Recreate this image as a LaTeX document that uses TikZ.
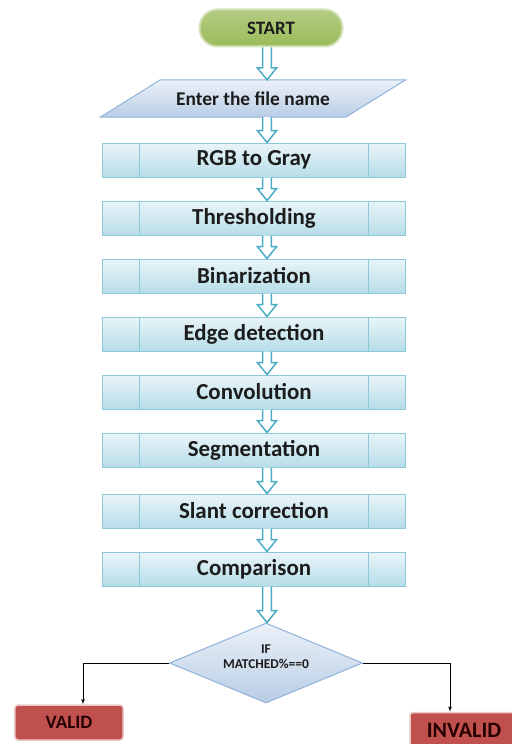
\documentclass[tikz,border=0pt]{standalone}
\usepackage{fontspec}
\setmainfont{Carlito}
\usetikzlibrary{arrows,positioning,shapes.geometric,calc,backgrounds}
\definecolor{startgreen}{HTML}{9BBB59}
\definecolor{startedge}{HTML}{D3E2B6}
\definecolor{boxtop}{HTML}{E9F5F9}
\definecolor{boxbottom}{HTML}{B7DDE8}
\definecolor{boxedge}{HTML}{8CC8D8}
\definecolor{paratop}{HTML}{EBF1F8}
\definecolor{parabottom}{HTML}{B9CDE5}
\definecolor{paraedge}{HTML}{8FB2DA}
\definecolor{arrowteal}{HTML}{4BACC6}
\definecolor{resultred}{HTML}{C0504D}
\definecolor{resultedge}{HTML}{EBC9C8}
\definecolor{textdark}{HTML}{1C1C1C}

\begin{document}
\begin{tikzpicture}[x=1bp, y=-1bp, node distance=23bp, auto]
\tikzset{
    startnode/.style={rectangle, rounded corners=18bp, draw=startedge, line width=2bp, top color=startgreen!75!white, bottom color=startgreen, minimum width=143bp, minimum height=37bp, font=\fontsize{19}{21}\selectfont\bfseries, text=textdark},
    inputnode/.style={rectangle, minimum width=305bp, minimum height=37bp, inner sep=0pt, font=\fontsize{19.5}{21}\selectfont\bfseries, text=textdark},
    inputshape/.style={draw=paraedge, line width=1bp, top color=paratop, bottom color=parabottom},
    stepbox/.style={rectangle, draw=boxedge, line width=1bp, top color=boxtop, bottom color=boxbottom, minimum width=302bp, minimum height=34bp, inner sep=0pt, font=\fontsize{23}{25}\selectfont\bfseries, text=textdark,
        path picture={
            \draw[boxedge, line width=1bp] ([xshift=36bp]path picture bounding box.north west) -- ([xshift=36bp]path picture bounding box.south west);
            \draw[boxedge, line width=1bp] ([xshift=-37bp]path picture bounding box.north east) -- ([xshift=-37bp]path picture bounding box.south east);}},
    decisionnode/.style={diamond, aspect=2.4, draw=paraedge, line width=1bp, top color=paratop, bottom color=parabottom, minimum width=193bp, minimum height=80bp, inner sep=0pt},
    decisiontext/.style={align=center, yshift=6.5bp, inner sep=0pt, font=\fontsize{13.5}{15}\selectfont\bfseries, text=textdark},
    resultnode/.style={rectangle, rounded corners=3bp, draw=resultedge, line width=1.5bp, fill=resultred, minimum width=108bp, minimum height=35bp, font=\fontsize{19}{21}\selectfont\bfseries, text=black!85!red},
    hollow/.style={draw=arrowteal, fill=white, line width=1.5bp, line join=miter,
        to path={let \p1=(\tikztostart), \p2=(\tikztotarget) in
            (\x1-4.3pt,\y1) -- (\x1-4.3pt,\y2+12pt) -- (\x1-9.7pt,\y2+12pt) -- (\x1,\y2)
            -- (\x1+9.7pt,\y2+12pt) -- (\x1+4.3pt,\y2+12pt) -- (\x1+4.3pt,\y1)}},
    myarrow/.style={->, >=latex', thick, black}
}
\useasboundingbox (0,0) rectangle (512,744);

\node[startnode] (start) at (271,28) {START};
\node[inputnode] (filename) at (253,98.5) {Enter the file name};
\node[stepbox] (rgb) at (254,160) {RGB to Gray};
\node[stepbox, below=of rgb] (threshold) {Thresholding};
\node[stepbox, below=of threshold] (binarize) {Binarization};
\node[stepbox, below=of binarize] (edge) {Edge detection};
\node[stepbox, below=of edge] (convolve) {Convolution};
\node[stepbox, below=of convolve] (segment) {Segmentation};
\node[stepbox, below=26bp of segment] (slant) {Slant correction};
\node[stepbox, below=of slant] (compare) {Comparison};
\node[decisionnode, below=36bp of compare, xshift=12bp,
    label={[decisiontext]center:IF\\MATCHED\%==0}] (decide) {};
\node[resultnode] (valid) at (69,722.5) {VALID};
\node[resultnode, font=\fontsize{22}{24}\selectfont\bfseries] (invalid) at (464,730) {INVALID};

% the input parallelogram sits behind its text
\begin{scope}[on background layer]
\draw[inputshape] (filename.south west) -- ([xshift=-60bp]filename.south east)
    -- (filename.north east) -- ([xshift=60bp]filename.north west) -- cycle;
\end{scope}

% hollow arrows between the steps
\draw[hollow] ([xshift=-4bp]start.south) to (filename.north);
\draw[hollow] ([xshift=14bp]filename.south) to (rgb.north);
\foreach \a/\b in {rgb/threshold, threshold/binarize, binarize/edge, edge/convolve, convolve/segment, segment/slant, slant/compare}
    \draw[hollow] ([xshift=13bp]\a.south) to (\b.north);
\draw[hollow] ([xshift=13bp]compare.south) to (decide.north);

\draw[myarrow] (decide.west) -| ([xshift=14bp]valid.north);
\draw[myarrow] (decide.east) -| ([xshift=-14bp]invalid.north);

\end{tikzpicture}
\end{document}
